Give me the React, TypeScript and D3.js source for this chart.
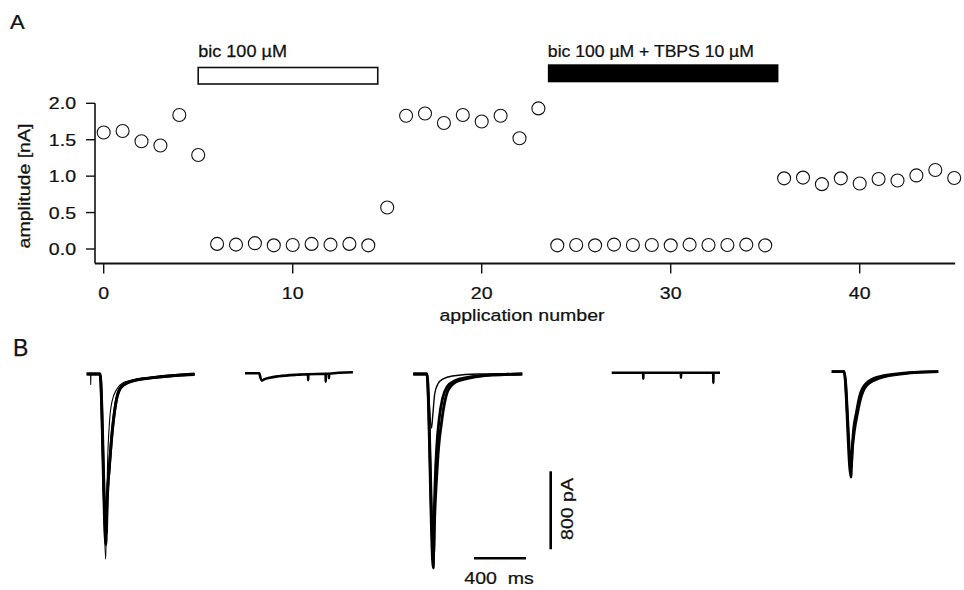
import React from 'react';
import * as d3 from 'd3';

// amplitude [nA] for each application (index = application number)
const amplitude = [
  1.60, 1.62, 1.48, 1.42, 1.84, 1.29,
  0.07, 0.06, 0.08, 0.05, 0.055, 0.07, 0.06, 0.07, 0.05,
  0.57,
  1.83, 1.86, 1.73, 1.84, 1.75, 1.83, 1.52, 1.93,
  0.05, 0.055, 0.05, 0.06, 0.055, 0.055, 0.05, 0.06, 0.055, 0.055, 0.06, 0.05,
  0.97, 0.98, 0.89, 0.97, 0.90, 0.96, 0.94, 1.01, 1.085, 0.975
];

const yTicks = [0, 0.5, 1.0, 1.5, 2.0];
const xTicks = [0, 10, 20, 30, 40];

// drug application bars [from, to] in application numbers
const bicLabel = 'bic 100 µM';
const bicRange = [5, 14.5];
const tbpsLabel = 'bic 100 µM + TBPS 10 µM';
const tbpsRange = [23.5, 35.7];

// panel B sweeps: [time ms, current pA]
const controlSweeps = [
  [[0, 0], [30, 0], [31, -110], [32, 0], [100, 0], [146, -1900], [152, -1500], [160, -950], [175, -500], [195, -280], [230, -160], [280, -90], [400, -50], [600, -20], [830, 0]],
  [[0, 0], [102, 0], [148, -1750], [155, -1350], [175, -950], [195, -600], [210, -420], [235, -220], [270, -120], [350, -70], [500, -40], [830, 0]],
  [[0, 0], [103, 0], [150, -1650], [160, -1250], [180, -850], [200, -550], [230, -260], [270, -130], [360, -70], [520, -35], [830, -5]]
];
const bicSweeps = [
  [[0, 0], [110, 0], [120, -50], [130, -75], [150, -60], [190, -45], [260, -30], [400, -15], [485, -10], [486, -70], [487, -10], [620, -5], [621, -85], [622, -5], [645, -5], [646, -50], [647, -5], [830, 10]]
];
const washSweeps = [
  [[0, 0], [103, 0], [140, -555], [150, -420], [165, -200], [190, -100], [230, -50], [300, -20], [500, 0], [838, 0]],
  [[0, 0], [104, 0], [154, -1990], [160, -1500], [168, -1100], [180, -750], [200, -450], [225, -250], [260, -130], [320, -70], [420, -35], [600, -10], [838, 0]],
  [[0, 0], [105, 0], [156, -1850], [165, -1450], [180, -1050], [195, -750], [215, -520], [240, -300], [270, -160], [330, -80], [440, -40], [620, -10], [838, 0]]
];
const tbpsSweeps = [
  [[0, 0], [242, 0], [243, -60], [244, 0], [532, 0], [533, -50], [534, 0], [781, 0], [782, -105], [783, 0], [833, 0]]
];
const recoverySweeps = [
  [[0, 0], [95, 0], [148, -1080], [155, -850], [168, -600], [190, -420], [215, -250], [265, -120], [370, -50], [550, -15], [820, 0]],
  [[0, 0], [96, 0], [150, -980], [160, -780], [175, -600], [195, -450], [220, -290], [270, -140], [380, -60], [560, -20], [820, 0]]
];

const FONT = "'Liberation Sans', Arial, Helvetica, sans-serif";
const INK = '#111';

function Txt({ x, y, size, anchor = 'start', rotate = 0, sx = 1.15, children }: any) {
  return (
    <text
      transform={`translate(${x},${y}) rotate(${rotate}) scale(${sx},1)`}
      textAnchor={anchor}
      fontSize={size}
      fontFamily={FONT}
      fill={INK}
      stroke={INK}
      strokeWidth={0.25}
      style={{ whiteSpace: 'pre' }}
    >
      {children}
    </text>
  );
}

export default function App() {
  const x = d3.scaleLinear().domain([0, 45]).range([103.7, 954.2]);
  const y = d3.scaleLinear().domain([0, 2]).range([249, 103.3]);
  const axisY = y(-0.2);
  const axisX0 = x(-0.46);

  // panel B scales: 400 ms -> 52 px, 800 pA -> 78 px
  const msPx = 52 / 400;
  const pAPx = 78 / 800;
  const traces = [
    { left: 86.7, base: 374, sweeps: controlSweeps, widths: [1.1, 2.8, 2.8] },
    { left: 245, base: 373.3, sweeps: bicSweeps, widths: [2.6] },
    { left: 413.3, base: 374, sweeps: washSweeps, widths: [1.4, 2.8, 2.8] },
    { left: 611.7, base: 372.7, sweeps: tbpsSweeps, widths: [2.6] },
    { left: 831.7, base: 371.7, sweeps: recoverySweeps, widths: [2.8, 2.8] }
  ];

  const barX = 474;
  const barY = 558.3;
  const tBar = d3.scaleLinear().domain([0, 400]).range([barX, barX + 400 * msPx]);
  const iBar = d3.scaleLinear().domain([0, 800]).range([549.3, 549.3 - 800 * pAPx]);

  return (
    <svg width={964} height={590} style={{ position: 'absolute', left: 0, top: 0, background: '#fff' }}>
      <rect width={964} height={590} fill="#fff" />

      {/* panel A */}
      <Txt x={10} y={29} size={20} sx={1.1}>A</Txt>

      <Txt x={x(bicRange[0])} y={57} size={16} sx={1.13}>{bicLabel}</Txt>
      <rect x={x(bicRange[0])} y={67.5} width={x(bicRange[1]) - x(bicRange[0])} height={16.5}
        fill="#fff" stroke={INK} strokeWidth={1.6} />
      <Txt x={x(tbpsRange[0])} y={56.7} size={16} sx={1.1}>{tbpsLabel}</Txt>
      <rect x={x(tbpsRange[0])} y={64.3} width={x(tbpsRange[1]) - x(tbpsRange[0])} height={18}
        fill="#000" />

      {/* y axis */}
      <line x1={95} x2={95} y1={y(2)} y2={axisY} stroke={INK} strokeWidth={1.6} />
      {yTicks.map(t => (
        <g key={t}>
          <line x1={86} x2={95} y1={y(t)} y2={y(t)} stroke={INK} strokeWidth={1.4} />
          <Txt x={76} y={y(t) + 6} size={17} anchor="end">{t.toFixed(1)}</Txt>
        </g>
      ))}
      <Txt x={30} y={186} size={17} anchor="middle" rotate={-90}>amplitude [nA]</Txt>

      {/* x axis */}
      <line x1={axisX0} x2={x(45.05)} y1={axisY} y2={axisY} stroke={INK} strokeWidth={2} />
      {xTicks.map(t => (
        <g key={t}>
          <line x1={x(t)} x2={x(t)} y1={axisY} y2={axisY + 10} stroke={INK} strokeWidth={1.4} />
          <Txt x={x(t)} y={299} size={17} anchor="middle">{String(t)}</Txt>
        </g>
      ))}
      <Txt x={522} y={321} size={17} anchor="middle">application number</Txt>

      {amplitude.map((a, i) => (
        <circle key={i} cx={x(i)} cy={y(a)} r={6.5} fill="none" stroke={INK} strokeWidth={1.1} />
      ))}

      {/* panel B */}
      <Txt x={13} y={356} size={23} sx={1}>B</Txt>

      {traces.map((tr, ti) => {
        const tx = d3.scaleLinear().domain([0, 400]).range([tr.left, tr.left + 400 * msPx]);
        const iy = d3.scaleLinear().domain([0, -800]).range([tr.base, tr.base + 800 * pAPx]);
        const line = d3.line<number[]>().x(d => tx(d[0])).y(d => iy(d[1])).curve(d3.curveMonotoneX);
        return (
          <g key={ti}>
            {tr.sweeps.map((s, si) => (
              <path key={si} d={line(s) || ''} fill="none" stroke="#000"
                strokeWidth={tr.widths[si]} strokeLinejoin="round" />
            ))}
          </g>
        );
      })}

      {/* scale bars */}
      <line x1={550.7} x2={550.7} y1={iBar(0)} y2={iBar(800)} stroke="#000" strokeWidth={2.6} />
      <line x1={tBar(0)} x2={tBar(400)} y1={barY} y2={barY} stroke="#000" strokeWidth={2.6} />
      <Txt x={573} y={509} size={17} anchor="middle" rotate={-90}>800 pA</Txt>
      <Txt x={499} y={584} size={17} anchor="middle">400  ms</Txt>
    </svg>
  );
}
